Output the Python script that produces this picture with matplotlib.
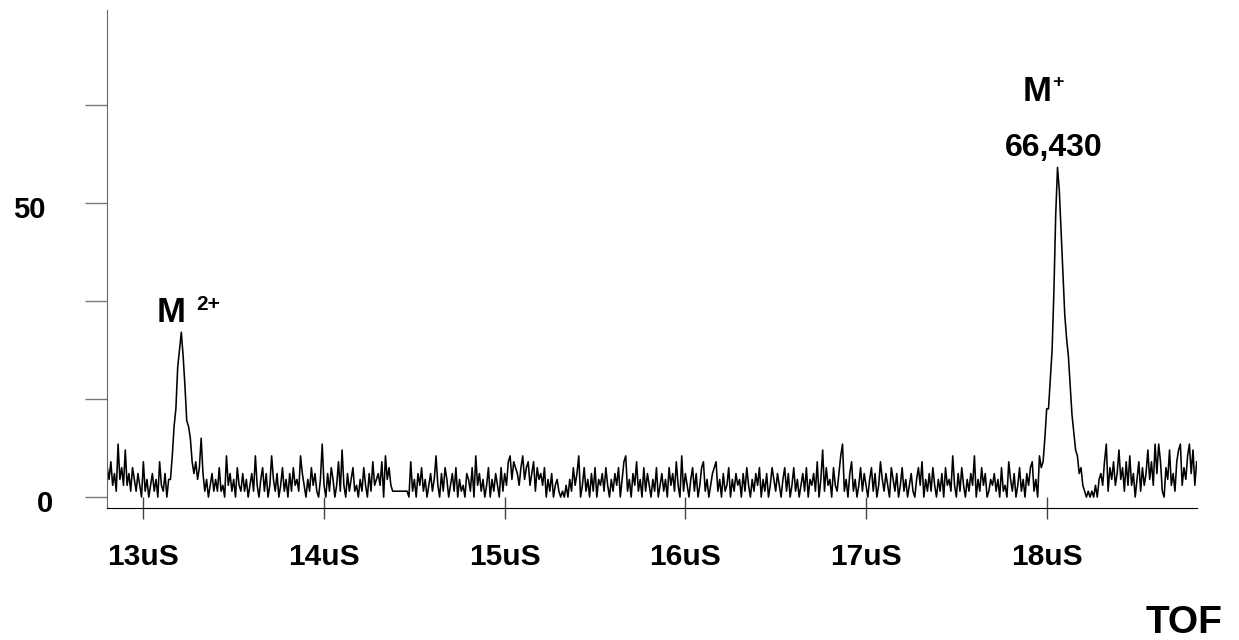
"""TOF mass spectrum with the M2+ and M+ peaks (66,430)."""

import matplotlib

matplotlib.use("Agg")

import matplotlib.pyplot as plt  # noqa: E402
import numpy as np  # noqa: E402

plt.rcParams["font.family"] = ["Liberation Sans", "DejaVu Sans"]
plt.rcParams["font.weight"] = "bold"

# time axis of the trace (uS)
T_START = 12.80
T_STEP = 0.01

# baseline counts, one digit per sample (12.80 .. 18.83 uS)
NOISE = (
    "53624193528241531420613024130621403369990000000000"
    "00000302413151207241305214130241720351402731402513"
    "04152317420315241039204153026182041351203152041623"
    "42607352111111111061304251302413720415302415031204"
    "31507241302503142051426736542573562461534250314023"
    "10102031524702513041503241520314250367130426130514"
    "20315024130524162071420351402561302456130412503142"
    "30415203142503140253142035140251302415032416038152"
    "30521479130461302514203514026314205314025130241035"
    "26031415203140523172041520314270315240132413051206"
    "31402513042561307000000000000000000000000001010203"
    "42691536248351627240361524836294961053824168925379"
    "4826"
)

# peak counts, M2+ and M+
PEAK2_START = 13.15
PEAK2 = [3, 7, 12, 15, 22, 25, 28, 24, 19, 13, 12, 10, 6, 4, 6, 3, 5, 10, 4, 1]
PEAK1_START = 17.97
PEAK1 = [5, 6, 10, 15, 15, 20, 25, 35, 48, 56, 52, 45, 38, 31, 27, 24, 19,
         14, 11, 8, 7, 4, 5, 2, 1]

X_TICKS = [13, 14, 15, 16, 17, 18]
X_LABELS = ["13uS", "14uS", "15uS", "16uS", "17uS", "18uS"]
Y_TICKS = [0, 50 / 3, 100 / 3, 50, 200 / 3]

counts = np.array([int(c) for c in NOISE], dtype=float)
t = T_START + T_STEP * np.arange(len(counts))
for start, peak in ((PEAK2_START, PEAK2), (PEAK1_START, PEAK1)):
    i0 = int(round((start - T_START) / T_STEP))
    counts[i0:i0 + len(peak)] = peak

fig = plt.figure(figsize=(12.39, 6.40), dpi=100)
ax = fig.add_axes([0.0864, 0.2063, 0.8797, 0.7777])

ax.plot(t, counts, color="black", linewidth=1.15)

ax.set_xlim(12.799, 18.832)
ax.set_ylim(-1.85, 82.7)

ax.spines["top"].set_visible(False)
ax.spines["right"].set_visible(False)
ax.spines["left"].set_color("#666666")
ax.spines["bottom"].set_color("black")

ax.set_xticks(X_TICKS)
ax.set_xticklabels(X_LABELS, fontsize=21.5, fontweight="bold")
ax.tick_params(axis="x", direction="inout", length=16.5, width=1.0,
               color="#444444", pad=17)

ax.set_yticks(Y_TICKS)
ax.set_yticklabels([])
ax.tick_params(axis="y", direction="out", length=15.5, width=1.0,
               color="#777777")

ytrans = ax.get_yaxis_transform()
for val, label, dx in ((0, "0", -54), (50, "50", -62)):
    ax.annotate(label, xy=(0, val), xycoords=ytrans, xytext=(dx, -7),
                textcoords="offset pixels", ha="right", va="center",
                fontsize=21, fontweight="bold")

# peak labels
p2 = (PEAK2_START + T_STEP * int(np.argmax(PEAK2)), max(PEAK2))
p1 = (PEAK1_START + T_STEP * int(np.argmax(PEAK1)), max(PEAK1))
ax.annotate("M", xy=p2, xytext=(-9.7, 10.6), textcoords="offset pixels",
            ha="center", va="baseline", fontsize=25, fontweight="bold")
ax.annotate("2+", xy=p2, xytext=(15, 22.6), textcoords="offset pixels",
            ha="left", va="baseline", fontsize=15, fontweight="bold")
ax.annotate("66,430", xy=p1, xytext=(-3.5, 11), textcoords="offset pixels",
            ha="center", va="baseline", fontsize=23, fontweight="bold")
ax.annotate("M", xy=p1, xytext=(-20, 66), textcoords="offset pixels",
            ha="center", va="baseline", fontsize=25, fontweight="bold")
ax.annotate("+", xy=p1, xytext=(0.5, 84.7), textcoords="offset pixels",
            ha="center", va="center", fontsize=14, fontweight="bold")

fig.text(1222 / 1239, 1 - 633 / 640, "TOF", ha="right", va="baseline",
         fontsize=28, fontweight="bold")

fig.savefig("out.png", dpi=100)
